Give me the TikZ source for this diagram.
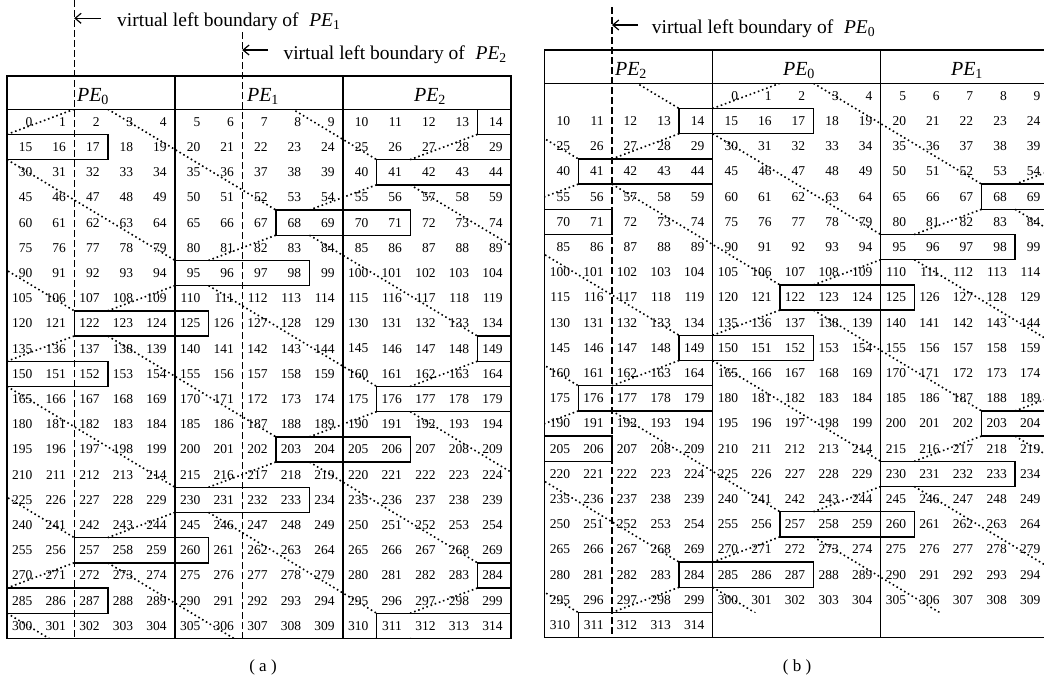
\documentclass[tikz,border=0pt]{standalone}
\usepackage{fontspec}
\setmainfont{Liberation Serif}
\usetikzlibrary{arrows.meta}

\newcommand{\pe}[1]{\textit{PE}\textsubscript{#1}}

\tikzset{
  numCelda/.style={anchor=east, inner sep=0pt, font=\fontsize{13.5}{15}\selectfont},
  marcoTabla/.style={draw=black, line width=1.4pt},
  cajaBloque/.style={draw=black, line width=1.4pt},
  lineaPunteada/.style={line width=1.6pt, dash pattern=on 1.6pt off 2.8pt},
  limiteVirtual/.style={line width=1.4pt, dash pattern=on 6.5pt off 3.5pt},
  flecha/.style={-{Straight Barb[length=6pt,width=10pt]}, line width=1.2pt},
  etiquetaLimite/.style={anchor=base west, inner sep=0pt, font=\fontsize{19.5}{22}\selectfont},
  cabeceraPE/.style={anchor=base, inner sep=0pt, font=\fontsize{20}{22}\selectfont},
  pieFigura/.style={inner sep=0pt, font=\fontsize{17}{19}\selectfont},
}

\begin{document}
\begin{tikzpicture}[x=1pt, y=-1pt]
  \useasboundingbox (0,0) rectangle (1044,683);
  \clip (0,0) rectangle (1044,683);

  % ---------- tabla (a) ----------
  \begin{scope}[shift={(7,109.2)}, x=33.6pt, y=-25.2pt]
    \foreach \fila in {0,...,20}
      \foreach \columna in {0,...,14}{
        \pgfmathtruncatemacro\n{15*\fila+\columna}
        \node[numCelda] (a\n) at (\columna+0.76,\fila+0.5) {\n};
      }
    % bloques de 4 elementos
    \foreach \k in {0,...,11}{
      \pgfmathtruncatemacro\s{14+27*\k}
      \pgfmathtruncatemacro\fila{floor(\s/15)}
      \pgfmathtruncatemacro\columna{\s-15*\fila}
      \ifnum\columna<12
        \draw[cajaBloque] (\columna,\fila) rectangle ++(4,1);
      \else
        \draw[cajaBloque] (\columna,\fila) rectangle (15,\fila+1);
        \draw[cajaBloque] (0,\fila+1) rectangle (\columna-11,\fila+2);
      \fi
    }
    % diagonales punteadas
    \begin{scope}
      \clip (0,0) rectangle (15,21);
      \foreach \k in {-4,...,11}{
        \pgfmathtruncatemacro\s{14+27*\k}
        \pgfmathtruncatemacro\fila{floor(\s/15)}
        \pgfmathtruncatemacro\columna{\s-15*\fila}
        \foreach \dx/\dy in {0/0,15/-1,-15/1}{
          \draw[lineaPunteada] (\columna+\dx,\fila+1+\dy) -- ++(-2,1);
          \draw[lineaPunteada] (\columna+1+\dx,\fila+1+\dy) -- ++(5,4);
        }
      }
    \end{scope}
  \end{scope}

  % ---------- tabla (b) ----------
  \begin{scope}[shift={(544.7,83.3)}, x=33.6pt, y=-25.2pt]
    \foreach \fila in {0,...,21}
      \foreach \columna in {0,...,14}{
        \pgfmathtruncatemacro\n{15*\fila+\columna-5}
        \ifnum\n<0 \else \ifnum\n>314 \else
          \node[numCelda] (b\n) at (\columna+0.76,\fila+0.5) {\n};
        \fi\fi
      }
    \foreach \k in {0,...,11}{
      \pgfmathtruncatemacro\s{14+27*\k+5}
      \pgfmathtruncatemacro\fila{floor(\s/15)}
      \pgfmathtruncatemacro\columna{\s-15*\fila}
      \ifnum\columna<12
        \draw[cajaBloque] (\columna,\fila) rectangle ++(4,1);
      \else
        \draw[cajaBloque] (\columna,\fila) rectangle (15,\fila+1);
        \draw[cajaBloque] (0,\fila+1) rectangle (\columna-11,\fila+2);
      \fi
    }
    \begin{scope}
      \clip (0,0) -- (15,0) -- (15,21) -- (5,21) -- (5,22) -- (0,22) -- cycle;
      \foreach \k in {-4,...,11}{
        \pgfmathtruncatemacro\s{14+27*\k+5}
        \pgfmathtruncatemacro\fila{floor(\s/15)}
        \pgfmathtruncatemacro\columna{\s-15*\fila}
        \foreach \dx/\dy in {0/0,15/-1,-15/1}{
          \draw[lineaPunteada] (\columna+\dx,\fila+1+\dy) -- ++(-2,1);
          % el tramo superior de PE1 no aparece en (b)
          \ifnum\k=-2 \ifnum\dx=0 \else
            \draw[lineaPunteada] (\columna+1+\dx,\fila+1+\dy) -- ++(5,4);
          \fi \else
            \draw[lineaPunteada] (\columna+1+\dx,\fila+1+\dy) -- ++(5,4);
          \fi
        }
      }
    \end{scope}
  \end{scope}

  % marcos
  \draw[marcoTabla] (7,76) rectangle (511,638.4);
  \draw[marcoTabla] (7,109.2) -- (511,109.2);
  \draw[marcoTabla] (175,76) -- (175,638.4);
  \draw[marcoTabla] (343,76) -- (343,638.4);

  \draw[marcoTabla] (544.7,50) rectangle (1048.7,637.7);
  \draw[marcoTabla] (544.7,83.3) -- (1048.7,83.3);
  \draw[marcoTabla] (712.7,50) -- (712.7,637.7);
  \draw[marcoTabla] (880.7,50) -- (880.7,637.7);

  % cabeceras
  \node[cabeceraPE] (cabA0) at (93,101) {\pe{0}};
  \node[cabeceraPE] (cabA1) at (263,101) {\pe{1}};
  \node[cabeceraPE] (cabA2) at (430,101) {\pe{2}};
  \node[cabeceraPE] (cabB2) at (631,75) {\pe{2}};
  \node[cabeceraPE] (cabB0) at (799,75) {\pe{0}};
  \node[cabeceraPE] (cabB1) at (967,75) {\pe{1}};

  % limites virtuales
  \draw[limiteVirtual] (74.2,0) -- (74.2,638.4);
  \draw[limiteVirtual] (242.2,32) -- (242.2,638.4);
  \draw[limiteVirtual] (611.9,7) -- (611.9,637.7);

  \coordinate (colaA1) at (100.5,18.3);
  \coordinate (puntaA1) at (74.2,18.3);
  \draw[flecha] (colaA1) -- (puntaA1);
  \node[etiquetaLimite] (etqA1) at (117,26.8) {virtual left boundary of\hspace{0.3em} \pe{1}};

  \coordinate (colaA2) at (268,50);
  \coordinate (puntaA2) at (242.2,50);
  \draw[flecha] (colaA2) -- (puntaA2);
  \node[etiquetaLimite] (etqA2) at (283.3,59) {virtual left boundary of\hspace{0.3em} \pe{2}};

  \coordinate (colaB0) at (638,25);
  \coordinate (puntaB0) at (611.9,25);
  \draw[flecha] (colaB0) -- (puntaB0);
  \node[etiquetaLimite] (etqB0) at (651.7,33.5) {virtual left boundary of\hspace{0.3em} \pe{0}};

  % pies
  \node[pieFigura] (pieA) at (263,667) {( a )};
  \node[pieFigura] (pieB) at (797,667) {( b )};
\end{tikzpicture}
\end{document}
